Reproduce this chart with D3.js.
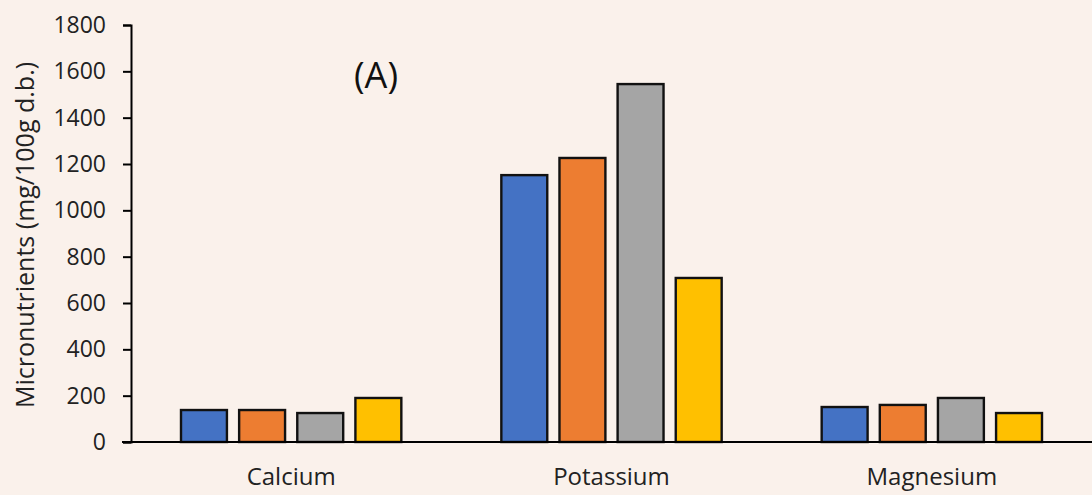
<!DOCTYPE html>
<html lang="en">
<head>
    <meta charset="UTF-8">
    <script src="https://d3js.org/d3.v7.min.js"></script>
    <style>
        body { margin: 0; background: #faf1eb; }
        svg { display: block; }
    </style>
</head>
<body>
    <div id="chart-container"></div>
    <script>
        const minerals = ["Calcium", "Potassium", "Magnesium"];
        const samples = ["S1", "S2", "S3", "S4"];
        const colours = ["#4472c4", "#ed7d31", "#a5a5a5", "#ffc000"];
        // values per sample, in mineral order
        const s1 = [138, 1152, 151];
        const s2 = [138, 1226, 160];
        const s3 = [125, 1545, 190];
        const s4 = [190, 708, 125];
        const yTicks = [0, 200, 400, 600, 800, 1000, 1200, 1400, 1600, 1800];

        const series = [s1, s2, s3, s4];
        const w = 1092, h = 495;

        const svg = d3.select("#chart-container")
            .append("svg")
            .attr("width", w)
            .attr("height", h)
            .style("background", "#faf1eb");

        const x0 = d3.scaleBand()
            .domain(minerals)
            .range([131, 1092]);

        const x1 = d3.scaleBand()
            .domain(samples)
            .range([50, x0.bandwidth() - 50])
            .paddingInner(0.21);

        const yScale = d3.scaleLinear()
            .domain([0, 1800])
            .range([442, 25]);

        // bars
        samples.forEach((s, i) => {
            svg.append("g")
                .selectAll("rect")
                .data(minerals.map((m, j) => ({ m, v: series[i][j] })))
                .enter()
                .append("rect")
                .attr("x", d => x0(d.m) + x1(s))
                .attr("y", d => yScale(d.v))
                .attr("width", x1.bandwidth())
                .attr("height", d => yScale(0) - yScale(d.v))
                .attr("fill", colours[i])
                .attr("stroke", "#111")
                .attr("stroke-width", 2.4);
        });

        // y axis
        const yAxis = d3.axisLeft(yScale)
            .tickValues(yTicks)
            .tickFormat(d3.format("d"))
            .tickSize(8)
            .tickPadding(17)
            .tickSizeOuter(8);

        const gy = svg.append("g")
            .attr("transform", "translate(131,0)")
            .call(yAxis);
        gy.select(".domain").attr("stroke", "#000").attr("stroke-width", 2);
        gy.selectAll(".tick line").attr("stroke", "#000").attr("stroke-width", 2);
        gy.selectAll(".tick text")
            .attr("font-family", "'Open Sans', sans-serif")
            .attr("font-size", "23px")
            .attr("fill", "#222");

        // x axis line
        svg.append("line")
            .attr("x1", 122)
            .attr("x2", w)
            .attr("y1", yScale(0))
            .attr("y2", yScale(0))
            .attr("stroke", "#000")
            .attr("stroke-width", 2);

        svg.selectAll("text.cat")
            .data(minerals)
            .enter()
            .append("text")
            .attr("class", "cat")
            .attr("x", d => x0(d) + x0.bandwidth() / 2)
            .attr("y", 485)
            .attr("text-anchor", "middle")
            .attr("font-family", "'Open Sans', sans-serif")
            .attr("font-size", "24px")
            .attr("fill", "#222")
            .text(d => d);

        // y axis label
        svg.append("text")
            .attr("x", -235)
            .attr("y", 34)
            .attr("transform", "rotate(-90)")
            .attr("text-anchor", "middle")
            .attr("font-family", "'Open Sans', sans-serif")
            .attr("font-size", "25px")
            .attr("fill", "#222")
            .text("Micronutrients (mg/100g d.b.)");

        // panel tag
        svg.append("text")
            .attr("x", 354)
            .attr("y", 88)
            .attr("font-family", "'Open Sans', sans-serif")
            .attr("font-size", "36px")
            .attr("fill", "#111")
            .text("(A)");
    </script>
</body>
</html>
